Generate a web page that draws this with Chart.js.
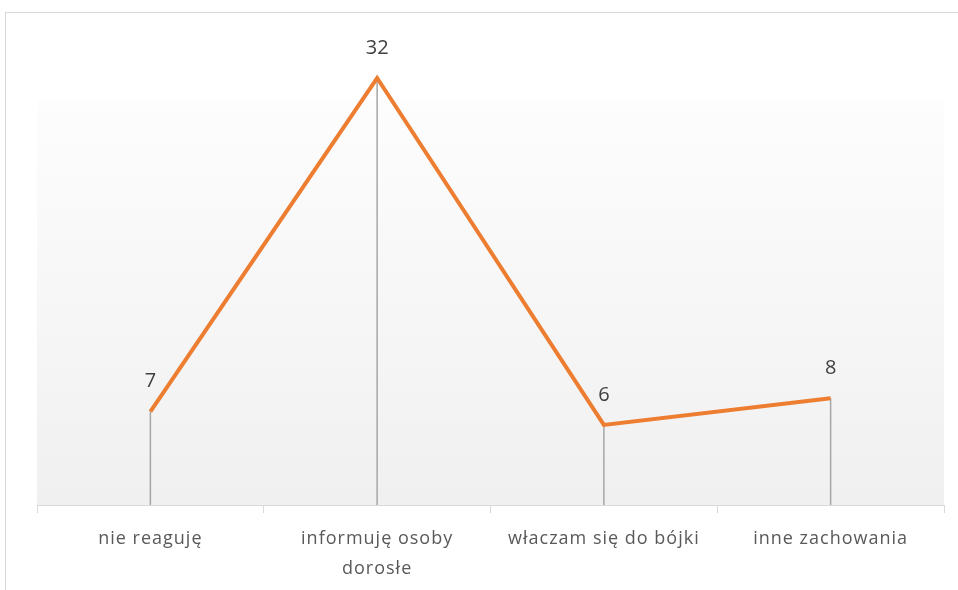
<!DOCTYPE html>
<html>
<head>
<meta charset="utf-8">
<script src="https://cdn.jsdelivr.net/npm/chart.js@4.4.0/dist/chart.umd.min.js"></script>
<style>
  html, body { margin: 0; padding: 0; background: #fff; }
  #wrap { position: relative; width: 958px; height: 590px; }
  #frame { position: absolute; left: 5px; top: 12px; width: 970px; height: 600px; border: 1px solid #d9d9d9; box-sizing: border-box; }
  canvas { position: absolute; left: 0; top: 0; }
</style>
</head>
<body>
<div id="wrap">
  <div id="frame"></div>
  <canvas id="chart" width="958" height="590"></canvas>
</div>
<script>
const categories = [['nie reaguję'], ['informuję osoby', 'dorosłe'], ['właczam się do bójki'], ['inne zachowania']];
const values = [7, 32, 6, 8];

// plot background: white at top fading to light grey
const plotBackground = {
  id: 'plotBackground',
  beforeDraw(chart) {
    const { ctx, chartArea } = chart;
    const top = chart.scales.y.getPixelForValue(30.4);
    const g = ctx.createLinearGradient(0, top, 0, chartArea.bottom);
    g.addColorStop(0, '#fdfdfd');
    g.addColorStop(1, '#f0f0f0');
    ctx.save();
    ctx.fillStyle = g;
    ctx.fillRect(chartArea.left, top, chartArea.right - chartArea.left, chartArea.bottom - top);
    ctx.restore();
    ctx.letterSpacing = '1px';
  }
};

// grey drop lines from each point to the axis, and value labels
const dropLines = {
  id: 'dropLines',
  beforeDatasetsDraw(chart) {
    const { ctx } = chart;
    const base = chart.scales.y.getPixelForValue(0);
    ctx.save();
    ctx.strokeStyle = '#a6a6a6';
    ctx.lineWidth = 1.5;
    chart.getDatasetMeta(0).data.forEach(p => {
      ctx.beginPath();
      ctx.moveTo(p.x, p.y);
      ctx.lineTo(p.x, base);
      ctx.stroke();
    });
    ctx.restore();
  },
  afterDatasetsDraw(chart) {
    const { ctx } = chart;
    ctx.save();
    ctx.letterSpacing = '0px';
    ctx.fillStyle = '#404040';
    ctx.font = '20px "Open Sans", sans-serif';
    ctx.textAlign = 'center';
    ctx.textBaseline = 'middle';
    chart.getDatasetMeta(0).data.forEach((p, i) => {
      ctx.fillText(values[i], p.x, p.y - 30);
    });
    ctx.restore();
  }
};

new Chart(document.getElementById('chart'), {
  type: 'line',
  data: {
    labels: categories,
    datasets: [{
      data: values,
      borderColor: '#ed7d31',
      borderWidth: 4,
      pointRadius: 0,
      tension: 0,
      fill: false
    }]
  },
  options: {
    responsive: false,
    animation: false,
    layout: { padding: { left: 37, right: 14, top: 38, bottom: 0 } },
    plugins: { legend: { display: false }, tooltip: { enabled: false } },
    scales: {
      x: {
        offset: true,
        grid: { offset: true, drawOnChartArea: false, drawTicks: true, tickLength: 8, color: '#d9d9d9' },
        border: { color: '#d9d9d9', width: 1 },
        ticks: {
          color: '#595959',
          padding: 11,
          maxRotation: 0,
          font: { family: '"Open Sans", sans-serif', size: 18, lineHeight: 1.65 }
        },
        afterFit(scale) { scale.height = 85; }
      },
      y: {
        display: false,
        min: 0,
        max: 35
      }
    }
  },
  plugins: [plotBackground, dropLines]
});
</script>
</body>
</html>
